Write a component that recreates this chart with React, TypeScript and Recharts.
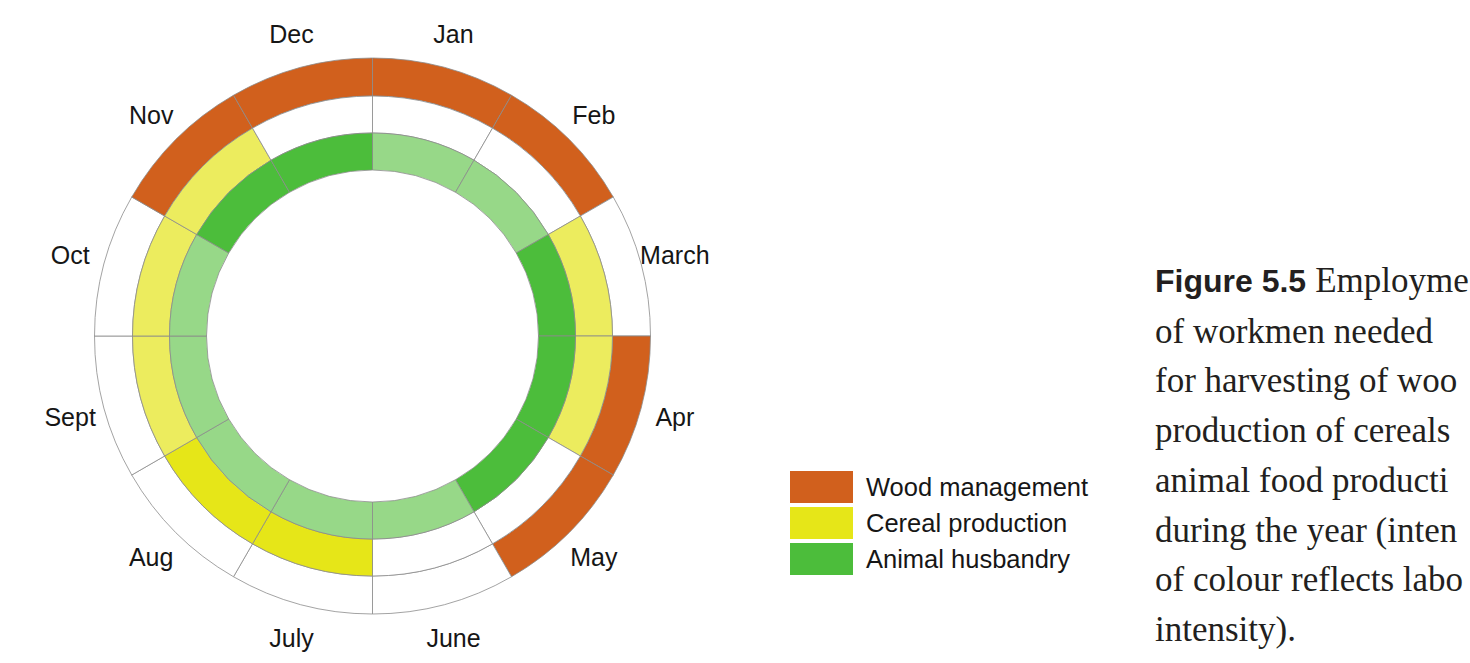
import React from "react";
import { PieChart, Pie, Cell, Legend } from "recharts";

// ---- data ----
const months = ["Jan", "Feb", "March", "Apr", "May", "June", "July", "Aug", "Sept", "Oct", "Nov", "Dec"];
// labour intensity per month: 0 = none, 1 = normal / light, 2 = high
const woodIntensity = [1, 1, 0, 1, 1, 0, 0, 0, 0, 0, 1, 1];
const cerealIntensity = [0, 0, 1, 1, 0, 0, 2, 2, 1, 1, 1, 0];
const animalIntensity = [1, 1, 2, 2, 2, 1, 1, 1, 1, 1, 2, 2];
const seriesNames = ["Wood management", "Cereal production", "Animal husbandry"];
// caption lines as visible in the figure (cut at the page edge)
const captionLabel = "Figure 5.5";
const captionFirst = "Employme";
const captionLines = [
  "of workmen needed",
  "for harvesting of woo",
  "production of cereals",
  "animal food producti",
  "during the year (inten",
  "of colour reflects labo",
  "intensity).",
];

// ---- styles ----
const woodColors = ["#ffffff", "#D1601D", "#D1601D"];
const cerealColors = ["#ffffff", "#ECEC5E", "#E6E618"];
const animalColors = ["#ffffff", "#97D888", "#4CBD3B"];
const legendColors = ["#D1601D", "#E6E618", "#4CBD3B"];
const SANS = "'Liberation Sans', Arial, Helvetica, sans-serif";
const SERIF = "'Liberation Serif', 'Times New Roman', serif";
const RADIAN = Math.PI / 180;

const buildRing = (intensity: number[]) =>
  months.map((m, i) => ({ month: m, span: 1, level: intensity[i] }));

const woodData = buildRing(woodIntensity);
const cerealData = buildRing(cerealIntensity);
const animalData = buildRing(animalIntensity);

const renderMonthLabel = (props: any) => {
  const { cx, cy, midAngle, outerRadius, index } = props;
  const r = outerRadius + 35;
  const x = cx + r * Math.cos(-midAngle * RADIAN);
  const y = cy + r * Math.sin(-midAngle * RADIAN);
  return (
    <text
      key={`lbl-${index}`}
      x={x}
      y={y}
      textAnchor="middle"
      dominantBaseline="central"
      fontFamily={SANS}
      fontSize={25}
      fill="#161616"
    >
      {months[index]}
    </text>
  );
};

const LegendContent = () => (
  <div style={{ display: "flex", flexDirection: "column", gap: 4 }}>
    {seriesNames.map((n, i) => (
      <div key={n} style={{ display: "flex", alignItems: "center", height: 32 }}>
        <div style={{ width: 63, height: 32, background: legendColors[i] }} />
        <span style={{ marginLeft: 13, fontFamily: SANS, fontSize: 25.5, color: "#161616", whiteSpace: "nowrap" }}>{n}</span>
      </div>
    ))}
  </div>
);

const ringProps = {
  dataKey: "span",
  nameKey: "month",
  cx: 372.5,
  cy: 336,
  startAngle: 90,
  endAngle: -270,
  stroke: "#8c8c8c",
  strokeWidth: 0.8,
  isAnimationActive: false,
  labelLine: false,
};

export default function App() {
  return (
    <div
      style={{
        position: "absolute",
        left: 0,
        top: 0,
        width: 1470,
        height: 663,
        overflow: "hidden",
        background: "#ffffff",
      }}
    >
      <PieChart width={1140} height={663} margin={{ top: 0, right: 0, bottom: 0, left: 0 }}>
        <Pie {...(ringProps as any)} data={woodData} innerRadius={240} outerRadius={278} label={renderMonthLabel}>
          {woodData.map((d, i) => (
            <Cell key={`w-${i}`} fill={woodColors[d.level]} />
          ))}
        </Pie>
        <Pie {...(ringProps as any)} data={cerealData} innerRadius={203} outerRadius={240} label={false}>
          {cerealData.map((d, i) => (
            <Cell key={`c-${i}`} fill={cerealColors[d.level]} />
          ))}
        </Pie>
        <Pie {...(ringProps as any)} data={animalData} innerRadius={166} outerRadius={203} label={false}>
          {animalData.map((d, i) => (
            <Cell key={`a-${i}`} fill={animalColors[d.level]} />
          ))}
        </Pie>
        <Legend
          content={() => <LegendContent />}
          wrapperStyle={{ position: "absolute", left: 790, top: 471, width: 340, bottom: "auto" }}
        />
      </PieChart>
      <div
        style={{
          position: "absolute",
          left: 1155,
          top: 256,
          fontFamily: SERIF,
          fontSize: 35,
          lineHeight: "49.7px",
          color: "#231F20",
          whiteSpace: "nowrap",
        }}
      >
        <div>
          <span style={{ fontFamily: SANS, fontWeight: "bold", fontSize: 32 }}>{captionLabel}</span>
          <span style={{ marginLeft: 9 }}>{captionFirst}</span>
        </div>
        {captionLines.map((l) => (
          <div key={l}>{l}</div>
        ))}
      </div>
    </div>
  );
}
